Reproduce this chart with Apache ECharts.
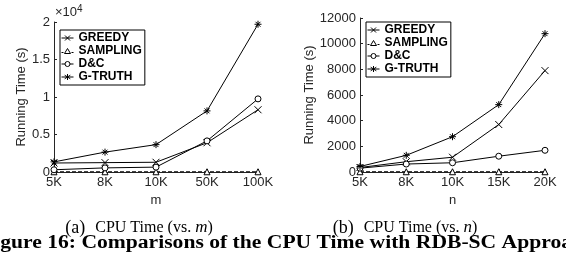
<!DOCTYPE html>
<html>
<head>
<meta charset="utf-8">
<script src="https://cdn.jsdelivr.net/npm/echarts@6/dist/echarts.min.js"></script>
<style>
  html, body { margin: 0; padding: 0; background: #fff; }
  #chart { width: 566px; height: 255px; }
</style>
</head>
<body>
<div id="chart"></div>
<script>
// data
const mCats = ['5K', '8K', '10K', '50K', '100K']
const nCats = ['5K', '8K', '10K', '15K', '20K']

const greedyM = [1200, 1250, 1300, 3900, 8300]
const samplingM = [30, 30, 30, 30, 30]
const dcM = [300, 550, 650, 4150, 9750]
const truthM = [1350, 2650, 3650, 8150, 19700]

const greedyN = [350, 800, 1150, 3700, 7900]
const samplingN = [20, 20, 20, 20, 20]
const dcN = [300, 620, 720, 1230, 1690]
const truthN = [430, 1300, 2750, 5250, 10780]

const mTicks = ['0', '0.5', '1', '1.5', '2']
const legendNames = ['GREEDY', 'SAMPLING', 'D&C', 'G-TRUTH']

const SYM_X = 'path://M0 0L10 10M10 0L0 10'
const SYM_STAR = 'path://M5 0L5 10M0 5L10 5M1.5 1.5L8.5 8.5M8.5 1.5L1.5 8.5'

// legend icons: short line with the marker in the middle
const legendIcons = {
  'GREEDY': 'path://M0 5L12 5M3.5 2.5L8.5 7.5M8.5 2.5L3.5 7.5',
  'SAMPLING': 'path://M0 6.5L2 6.5M10 6.5L12 6.5M6 2.5L9 7.5L3 7.5Z',
  'D&C': 'path://M0 5L3.5 5M8.5 5L12 5M8.5 5A2.5 2.5 0 1 1 3.5 5A2.5 2.5 0 1 1 8.5 5Z',
  'G-TRUTH': 'path://M0 5L12 5M6 2L6 8M3.2 3.2L8.8 6.8M8.8 3.2L3.2 6.8',
}

const tickFont = { color: '#262626', fontSize: 13, fontFamily: 'Liberation Sans' }

function makeSeries(name, data, idx, symbol, dashed) {
  const hollow = symbol === 'circle' || symbol === 'triangle'
  return {
    name,
    type: 'line',
    xAxisIndex: idx,
    yAxisIndex: idx,
    data,
    symbol,
    symbolSize: hollow ? 6 : 7,
    showAllSymbol: true,
    lineStyle: { color: '#000', width: 1, type: dashed ? [4, 2] : 'solid' },
    itemStyle: { color: hollow ? '#fff' : '#000', borderColor: '#000', borderWidth: 1 },
    emphasis: { disabled: true },
  }
}

function makeLegend(left, top) {
  return {
    show: true,
    orient: 'vertical',
    left,
    top,
    itemGap: 1,
    itemWidth: 12,
    itemHeight: 10,
    padding: [2, 3, 2, 1],
    borderColor: '#000',
    borderWidth: 1,
    backgroundColor: '#fff',
    selectedMode: false,
    textStyle: { fontSize: 12, fontWeight: 'bold', fontFamily: 'Liberation Sans', color: '#000' },
    data: legendNames.map(n => ({
      name: n,
      icon: legendIcons[n],
      itemStyle: { color: '#fff', borderColor: '#000', borderWidth: 1 },
    })),
  }
}

function xAxis(idx, cats, name) {
  return {
    type: 'category',
    gridIndex: idx,
    data: cats,
    boundaryGap: false,
    name,
    nameLocation: 'middle',
    nameGap: 20,
    nameTextStyle: tickFont,
    axisLine: { lineStyle: { color: '#262626', width: 1 } },
    axisTick: { inside: true, length: 3, lineStyle: { color: '#262626' } },
    axisLabel: { ...tickFont, margin: 4 },
    splitLine: { show: false },
  }
}

function yAxis(idx, max, interval, gap, labels) {
  return {
    type: 'value',
    gridIndex: idx,
    min: 0,
    max,
    interval,
    name: 'Running Time (s)',
    nameLocation: 'middle',
    nameGap: gap,
    nameTextStyle: tickFont,
    axisLine: { show: true, lineStyle: { color: '#262626', width: 1 } },
    axisTick: { show: true, inside: true, length: 3, lineStyle: { color: '#262626' } },
    axisLabel: {
      ...tickFont,
      margin: 4,
      formatter: labels ? (v) => labels[Math.round(v / interval)] : (v) => String(v),
    },
    splitLine: { show: false },
  }
}

function caption(letter, variable, cx) {
  return {
    type: 'text',
    x: cx,
    y: 228,
    style: {
      text: '{a|(' + letter + ')}{b|CPU Time (vs. }{i|' + variable + '}{b|)}',
      fill: '#000',
      align: 'center',
      verticalAlign: 'middle',
      rich: {
        a: { fontSize: 18, fontFamily: 'Liberation Serif', padding: [0, 10, 0, 0] },
        b: { fontSize: 16, fontFamily: 'Liberation Serif' },
        i: { fontStyle: 'italic', fontSize: 17, fontFamily: 'Liberation Serif' },
      },
    },
  }
}

const chart = echarts.init(document.getElementById('chart'), null, { renderer: 'canvas' })

const option = {
  animation: false,
  backgroundColor: '#fff',
  grid: [
    { left: 54, right: 308, top: 22, bottom: 83 },
    { left: 360, right: 21, top: 18, bottom: 83 },
  ],
  xAxis: [xAxis(0, mCats, 'm'), xAxis(1, nCats, 'n')],
  yAxis: [yAxis(0, 20000, 5000, 22, mTicks), yAxis(1, 12000, 2000, 40, null)],
  legend: [makeLegend(60, 30), makeLegend(366, 22)],
  series: [
    makeSeries('GREEDY', greedyM, 0, SYM_X, false),
    makeSeries('SAMPLING', samplingM, 0, 'triangle', true),
    makeSeries('D&C', dcM, 0, 'circle', false),
    makeSeries('G-TRUTH', truthM, 0, SYM_STAR, false),
    makeSeries('GREEDY', greedyN, 1, SYM_X, false),
    makeSeries('SAMPLING', samplingN, 1, 'triangle', true),
    makeSeries('D&C', dcN, 1, 'circle', false),
    makeSeries('G-TRUTH', truthN, 1, SYM_STAR, false),
  ],
  graphic: [
    {
      type: 'text',
      left: 55,
      top: 4,
      style: {
        text: '×10{sup|4}',
        font: '13px "Liberation Sans"',
        fill: '#262626',
        rich: { sup: { fontSize: 10, verticalAlign: 'top', padding: [0, 0, 6, 0], fontFamily: 'Liberation Sans' } },
      },
    },
    caption('a', 'm', 139),
    caption('b', 'n', 405),
    {
      type: 'text',
      x: -19,
      y: 243,
      scaleX: 1.2,
      style: {
        text: 'Figure 16: Comparisons of the CPU Time with RDB-SC Approach',
        font: 'bold 18px "Liberation Serif"',
        fill: '#000',
        align: 'left',
        verticalAlign: 'middle',
      },
    },
  ],
}

chart.setOption(option)
</script>
</body>
</html>
